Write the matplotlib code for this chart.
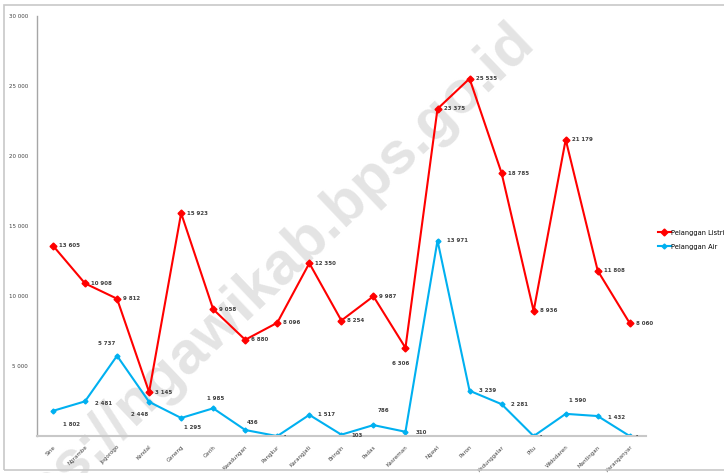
import matplotlib.pyplot as plt
from matplotlib.patches import Rectangle

kecamatan = ["Sine", "Ngrambe", "Jogorogo", "Kendal", "Geneng", "Gerih", "Kwadungan",
             "Pangkur", "Karangjati", "Bringin", "Padas", "Kasreman", "Ngawi", "Paron",
             "Kedunggalar", "Pitu", "Widodaren", "Mantingan", "Karanganyar"]
listrik = [13605, 10908, 9812, 3145, 15923, 9058, 6880, 8096, 12350, 8254, 9987, 6306,
           23375, 25535, 18785, 8936, 21179, 11808, 8060]
air = [1802, 2481, 5737, 2448, 1295, 1985, 436, 0, 1517, 103, 786, 310,
       13971, 3239, 2281, 0, 1590, 1432, 0]
y_ticks = [5000, 10000, 15000, 20000, 25000, 30000]

# label placement for the water series in pixels: (dx, dy, ha)
air_offsets = [(10, -14, "left"), (10, -2, "left"), (-10, 12, "center"),
               (-9, -13, "center"), (11, -10, "center"), (2, 10, "center"),
               (7, 8, "center"), (6, 0, "left"), (9, 0, "left"), (10, -1, "left"),
               (10, 15, "center"), (10, -1, "left"), (9, 0, "left"), (9, 0, "left"),
               (9, 0, "left"), (6, 0, "left"), (12, 13, "center"), (10, -1, "left"),
               (6, 0, "left")]


def fmt(v):
    return "-" if v == 0 else f"{v:,}".replace(",", " ")


fig = plt.figure(figsize=(7.24, 4.73), dpi=100)
fig.patches.append(Rectangle((0.006, 0.006), 1.2, 0.983, transform=fig.transFigure,
                             fill=False, edgecolor="#c8c8c8", linewidth=1.2))
# watermark, anchored at the end of "id"
fig.text(0.726, 0.932, "https://ngawikab.bps.go.id", family="Liberation Sans",
         fontsize=43, fontweight="bold", color="#e4e4e4", rotation=43.5,
         rotation_mode="anchor", ha="right", va="center", zorder=-1)

ax = fig.add_axes([0.051, 0.078, 0.841, 0.888])
ax.patch.set_alpha(0)
x = list(range(len(kecamatan)))
ax.plot(x, listrik, color="#ff0000", lw=1.5, marker="D", ms=3.5, label="Pelanggan Listrik")
ax.plot(x, air, color="#00b0f0", lw=1.5, marker="D", ms=2.5, label="Pelanggan Air")

for i, v in enumerate(listrik):
    dx, dy, ha = (-5, -16, "center") if i == 11 else (6, 0, "left")
    ax.annotate(fmt(v), (i, v), xytext=(dx, dy), textcoords="offset pixels",
                fontsize=4, fontweight="bold", color="#404040", va="center", ha=ha)
for i, v in enumerate(air):
    dx, dy, ha = air_offsets[i]
    ax.annotate(fmt(v), (i, v), xytext=(dx, dy), textcoords="offset pixels",
                fontsize=4, fontweight="bold", color="#404040", va="center", ha=ha)

ax.set_xlim(-0.5, len(kecamatan) - 0.5)
ax.set_ylim(0, 30000)
ax.set_yticks(y_ticks)
ax.set_yticklabels([fmt(v) for v in y_ticks], fontsize=4, color="#404040")
ax.set_xticks(x)
ax.set_xticklabels(kecamatan, rotation=45, ha="right", rotation_mode="anchor",
                   fontsize=4, color="#404040")
ax.tick_params(length=0)
ax.tick_params(axis="y", pad=6.5)
ax.tick_params(axis="x", pad=6)
for side in ["top", "right"]:
    ax.spines[side].set_visible(False)
ax.spines["left"].set_color("#a6a6a6")
ax.spines["left"].set_linewidth(1)
ax.spines["bottom"].set_color("#c8c8c8")
ax.spines["bottom"].set_linewidth(1.5)

ax.legend(loc="upper left", bbox_to_anchor=(0.905, 0.52), bbox_transform=fig.transFigure,
          frameon=False, fontsize=4.8, handlelength=1.9, handletextpad=0.1,
          labelspacing=1.2, borderaxespad=0)

fig.savefig("out.png", dpi=100)
